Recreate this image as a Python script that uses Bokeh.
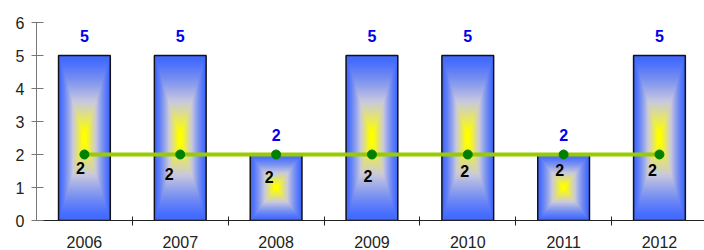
from bokeh.plotting import figure
from bokeh.models import Range1d, FixedTicker, ColumnDataSource
from bokeh.embed import file_html
from bokeh.resources import INLINE
from bokeh.core.properties import value

years = ["2006", "2007", "2008", "2009", "2010", "2011", "2012"]
bar_values = [5, 5, 2, 5, 5, 2, 5]
line_values = [2, 2, 2, 2, 2, 2, 2]
y_ticks = [0, 1, 2, 3, 4, 5, 6]

# style-only settings
BAR_W = 0.54
N_STEPS = 40
EDGE = (64, 104, 255)
MID = (200, 200, 222)
CORE = (255, 255, 0)
line_label_dx = [-4, -11, -7, -4, -3, -4, -7]
line_label_dy = [13, 19, 22, 21, 16, 15, 15]

xs = list(range(len(years)))


def mix(a, b, t):
    return tuple(int(round(a[j] + (b[j] - a[j]) * t)) for j in range(3))


def grad(t):
    c = mix(EDGE, MID, t / 0.5) if t < 0.5 else mix(MID, CORE, (t - 0.5) / 0.5)
    return "#%02x%02x%02x" % c


p = figure(width=704, height=250, output_backend="svg", toolbar_location=None,
           x_range=Range1d(-0.5, 6.47), y_range=Range1d(0, 6),
           min_border_left=36, min_border_top=22, min_border_bottom=30, min_border_right=0)
p.outline_line_color = None
p.grid.visible = False
p.background_fill_color = "white"
p.border_fill_color = "white"

# gradient bars as nested quads
L, R, B, T, C = [], [], [], [], []
for k in range(N_STEPS):
    s = 1 - k / N_STEPS
    t = min(1.0, ((1 - s) / 0.92) ** 1.3)
    col = grad(t)
    for x, v in zip(xs, bar_values):
        L.append(x - s * BAR_W / 2)
        R.append(x + s * BAR_W / 2)
        B.append(v / 2 - s * v / 2)
        T.append(v / 2 + s * v / 2)
        C.append(col)
p.quad(left=L, right=R, bottom=B, top=T, fill_color=C, line_color=None)
p.vbar(x=xs, top=bar_values, width=BAR_W, fill_color=None, line_color="#111111", line_width=1.5)

# value labels above bars
p.text(x=xs, y=bar_values, text=[str(v) for v in bar_values], text_color="#0000ee",
       text_font=value("Liberation Sans"), text_font_style="bold", text_font_size="16px",
       text_align="center", text_baseline="middle", y_offset=-20)

# line series
p.line(xs, line_values, line_color="#99cc00", line_width=4)
p.scatter(xs, line_values, size=9, fill_color="#008000", line_color="#008000")
src = ColumnDataSource(dict(x=xs, y=line_values, t=[str(v) for v in line_values],
                            dx=line_label_dx, dy=line_label_dy))
p.text(x="x", y="y", text="t", source=src, x_offset="dx", y_offset="dy", text_color="black",
       text_font=value("Liberation Sans"), text_font_style="bold", text_font_size="16px",
       text_align="center", text_baseline="middle")

# axes
xa = p.xaxis[0]
xa.ticker = FixedTicker(ticks=xs, minor_ticks=[x + 0.5 for x in xs[:-1]])
xa.major_label_overrides = {x: y for x, y in zip(xs, years)}
xa.major_tick_line_color = None
xa.minor_tick_in = 4
xa.minor_tick_out = 5
xa.minor_tick_line_color = "#222222"
xa.axis_line_color = "#222222"
xa.major_label_text_font = "Liberation Sans"
xa.major_label_text_font_size = "16px"
xa.major_label_text_color = "#222222"
xa.major_label_standoff = 9

ya = p.yaxis[0]
ya.ticker = FixedTicker(ticks=y_ticks)
ya.axis_line_color = "#777777"
ya.major_tick_line_color = "#777777"
ya.major_tick_in = 7
ya.major_tick_out = 5
ya.minor_tick_line_color = None
ya.major_label_text_font = "Liberation Sans"
ya.major_label_text_font_size = "16px"
ya.major_label_text_color = "#222222"
ya.major_label_standoff = 7

open("out.html", "w").write(file_html(p, INLINE))
